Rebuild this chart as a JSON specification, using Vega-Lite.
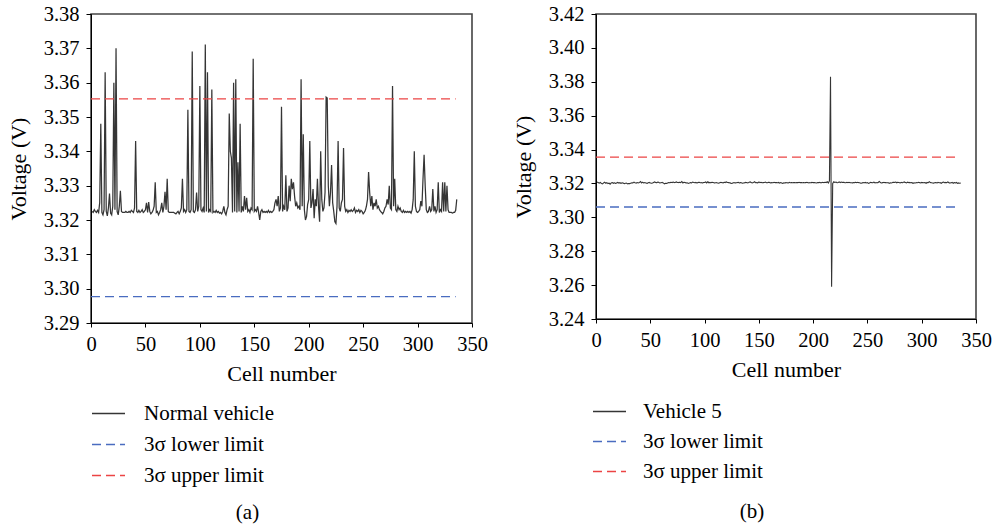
{
"$schema": "https://vega.github.io/schema/vega-lite/v6.json",
"background": "white",
"padding": {"left": 6, "top": 3, "right": 0, "bottom": 0},
"autosize": {"type": "pad"},
"config": {
  "view": {"stroke": "#444444", "strokeWidth": 1.6},
  "axis": {"grid": false, "labelFont": "Liberation Serif", "labelFontSize": 20.5, "labelColor": "black", "titleFont": "Liberation Serif", "titleFontSize": 22, "titleFontWeight": "normal", "titleColor": "black", "domainColor": "black", "tickColor": "black", "labelFlush": false, "labelOverlap": false, "labelSeparation": 0},
  "axisX": {"tickSize": 4, "labelPadding": 7, "titlePadding": 9},
  "axisY": {"tickSize": 5, "labelPadding": 7, "titlePadding": 13},
  "legend": {"labelFont": "Liberation Serif"},
  "title": {"font": "Liberation Serif", "fontSize": 21, "fontWeight": "normal", "color": "black"}
},
"datasets": {
"a": [
{"x":1,"v":3.3225},{"x":2,"v":3.3222},{"x":3,"v":3.3230},{"x":4,"v":3.3225},{"x":5,"v":3.3222},{"x":6,"v":3.3228},{"x":7,"v":3.3222},{"x":8,"v":3.3250},{"x":9,"v":3.3480},{"x":10,"v":3.3222},
{"x":11,"v":3.3215},{"x":12,"v":3.3230},{"x":13,"v":3.3630},{"x":14,"v":3.3225},{"x":15,"v":3.3212},{"x":16,"v":3.3235},{"x":17,"v":3.3277},{"x":18,"v":3.3220},{"x":19,"v":3.3215},{"x":20,"v":3.3240},
{"x":21,"v":3.3600},{"x":22,"v":3.3230},{"x":23,"v":3.3700},{"x":24,"v":3.3225},{"x":25,"v":3.3215},{"x":26,"v":3.3240},{"x":27,"v":3.3285},{"x":28,"v":3.3225},{"x":29,"v":3.3222},{"x":30,"v":3.3222},
{"x":31,"v":3.3222},{"x":32,"v":3.3225},{"x":33,"v":3.3222},{"x":34,"v":3.3222},{"x":35,"v":3.3225},{"x":36,"v":3.3222},{"x":37,"v":3.3228},{"x":38,"v":3.3225},{"x":39,"v":3.3222},{"x":40,"v":3.3235},
{"x":41,"v":3.3430},{"x":42,"v":3.3225},{"x":43,"v":3.3222},{"x":44,"v":3.3228},{"x":45,"v":3.3222},{"x":46,"v":3.3225},{"x":47,"v":3.3230},{"x":48,"v":3.3222},{"x":49,"v":3.3225},{"x":50,"v":3.3230},
{"x":51,"v":3.3250},{"x":52,"v":3.3222},{"x":53,"v":3.3252},{"x":54,"v":3.3225},{"x":55,"v":3.3218},{"x":56,"v":3.3222},{"x":57,"v":3.3228},{"x":58,"v":3.3240},{"x":59,"v":3.3310},{"x":60,"v":3.3222},
{"x":61,"v":3.3225},{"x":62,"v":3.3215},{"x":63,"v":3.3222},{"x":64,"v":3.3230},{"x":65,"v":3.3250},{"x":66,"v":3.3222},{"x":67,"v":3.3240},{"x":68,"v":3.3282},{"x":69,"v":3.3230},{"x":70,"v":3.3320},
{"x":71,"v":3.3225},{"x":72,"v":3.3222},{"x":73,"v":3.3222},{"x":74,"v":3.3222},{"x":75,"v":3.3222},{"x":76,"v":3.3222},{"x":77,"v":3.3220},{"x":78,"v":3.3218},{"x":79,"v":3.3222},{"x":80,"v":3.3225},
{"x":81,"v":3.3218},{"x":82,"v":3.3225},{"x":83,"v":3.3235},{"x":84,"v":3.3320},{"x":85,"v":3.3225},{"x":86,"v":3.3230},{"x":87,"v":3.3222},{"x":88,"v":3.3230},{"x":89,"v":3.3521},{"x":90,"v":3.3225},
{"x":91,"v":3.3222},{"x":92,"v":3.3230},{"x":93,"v":3.3691},{"x":94,"v":3.3225},{"x":95,"v":3.3222},{"x":96,"v":3.3230},{"x":97,"v":3.3280},{"x":98,"v":3.3225},{"x":99,"v":3.3240},{"x":100,"v":3.3590},
{"x":101,"v":3.3230},{"x":102,"v":3.3225},{"x":103,"v":3.3235},{"x":104,"v":3.3222},{"x":105,"v":3.3711},{"x":106,"v":3.3225},{"x":107,"v":3.3630},{"x":108,"v":3.3222},{"x":109,"v":3.3230},{"x":110,"v":3.3225},
{"x":111,"v":3.3580},{"x":112,"v":3.3222},{"x":113,"v":3.3225},{"x":114,"v":3.3222},{"x":115,"v":3.3228},{"x":116,"v":3.3222},{"x":117,"v":3.3225},{"x":118,"v":3.3220},{"x":119,"v":3.3222},{"x":120,"v":3.3218},
{"x":121,"v":3.3225},{"x":122,"v":3.3240},{"x":123,"v":3.3222},{"x":124,"v":3.3215},{"x":125,"v":3.3230},{"x":126,"v":3.3240},{"x":127,"v":3.3510},{"x":128,"v":3.3400},{"x":129,"v":3.3380},{"x":130,"v":3.3222},
{"x":131,"v":3.3600},{"x":132,"v":3.3225},{"x":133,"v":3.3610},{"x":134,"v":3.3222},{"x":135,"v":3.3368},{"x":136,"v":3.3225},{"x":137,"v":3.3480},{"x":138,"v":3.3222},{"x":139,"v":3.3240},{"x":140,"v":3.3225},
{"x":141,"v":3.3270},{"x":142,"v":3.3230},{"x":143,"v":3.3265},{"x":144,"v":3.3225},{"x":145,"v":3.3230},{"x":146,"v":3.3222},{"x":147,"v":3.3235},{"x":148,"v":3.3230},{"x":149,"v":3.3670},{"x":150,"v":3.3225},
{"x":151,"v":3.3230},{"x":152,"v":3.3225},{"x":153,"v":3.3240},{"x":154,"v":3.3222},{"x":155,"v":3.3200},{"x":156,"v":3.3225},{"x":157,"v":3.3230},{"x":158,"v":3.3222},{"x":159,"v":3.3225},{"x":160,"v":3.3222},
{"x":161,"v":3.3225},{"x":162,"v":3.3222},{"x":163,"v":3.3228},{"x":164,"v":3.3222},{"x":165,"v":3.3225},{"x":166,"v":3.3222},{"x":167,"v":3.3225},{"x":168,"v":3.3230},{"x":169,"v":3.3250},{"x":170,"v":3.3260},
{"x":171,"v":3.3240},{"x":172,"v":3.3270},{"x":173,"v":3.3225},{"x":174,"v":3.3235},{"x":175,"v":3.3530},{"x":176,"v":3.3225},{"x":177,"v":3.3240},{"x":178,"v":3.3230},{"x":179,"v":3.3330},{"x":180,"v":3.3225},
{"x":181,"v":3.3235},{"x":182,"v":3.3300},{"x":183,"v":3.3255},{"x":184,"v":3.3320},{"x":185,"v":3.3290},{"x":186,"v":3.3310},{"x":187,"v":3.3270},{"x":188,"v":3.3240},{"x":189,"v":3.3250},{"x":190,"v":3.3235},
{"x":191,"v":3.3240},{"x":192,"v":3.3230},{"x":193,"v":3.3610},{"x":194,"v":3.3240},{"x":195,"v":3.3450},{"x":196,"v":3.3230},{"x":197,"v":3.3200},{"x":198,"v":3.3210},{"x":199,"v":3.3245},{"x":200,"v":3.3260},
{"x":201,"v":3.3430},{"x":202,"v":3.3235},{"x":203,"v":3.3250},{"x":204,"v":3.3290},{"x":205,"v":3.3205},{"x":206,"v":3.3260},{"x":207,"v":3.3240},{"x":208,"v":3.3320},{"x":209,"v":3.3240},{"x":210,"v":3.3195},
{"x":211,"v":3.3400},{"x":212,"v":3.3260},{"x":213,"v":3.3225},{"x":214,"v":3.3235},{"x":215,"v":3.3280},{"x":216,"v":3.3558},{"x":217,"v":3.3555},{"x":218,"v":3.3300},{"x":219,"v":3.3240},{"x":220,"v":3.3280},
{"x":221,"v":3.3360},{"x":222,"v":3.3250},{"x":223,"v":3.3225},{"x":224,"v":3.3195},{"x":225,"v":3.3190},{"x":226,"v":3.3240},{"x":227,"v":3.3430},{"x":228,"v":3.3235},{"x":229,"v":3.3225},{"x":230,"v":3.3250},
{"x":231,"v":3.3260},{"x":232,"v":3.3410},{"x":233,"v":3.3240},{"x":234,"v":3.3225},{"x":235,"v":3.3230},{"x":236,"v":3.3222},{"x":237,"v":3.3228},{"x":238,"v":3.3225},{"x":239,"v":3.3230},{"x":240,"v":3.3225},
{"x":241,"v":3.3228},{"x":242,"v":3.3235},{"x":243,"v":3.3222},{"x":244,"v":3.3228},{"x":245,"v":3.3225},{"x":246,"v":3.3230},{"x":247,"v":3.3222},{"x":248,"v":3.3228},{"x":249,"v":3.3225},{"x":250,"v":3.3218},
{"x":251,"v":3.3222},{"x":252,"v":3.3228},{"x":253,"v":3.3240},{"x":254,"v":3.3260},{"x":255,"v":3.3340},{"x":256,"v":3.3280},{"x":257,"v":3.3240},{"x":258,"v":3.3270},{"x":259,"v":3.3230},{"x":260,"v":3.3250},
{"x":261,"v":3.3240},{"x":262,"v":3.3260},{"x":263,"v":3.3235},{"x":264,"v":3.3240},{"x":265,"v":3.3230},{"x":266,"v":3.3225},{"x":267,"v":3.3222},{"x":268,"v":3.3218},{"x":269,"v":3.3225},{"x":270,"v":3.3235},
{"x":271,"v":3.3240},{"x":272,"v":3.3260},{"x":273,"v":3.3245},{"x":274,"v":3.3300},{"x":275,"v":3.3235},{"x":276,"v":3.3230},{"x":277,"v":3.3590},{"x":278,"v":3.3240},{"x":279,"v":3.3320},{"x":280,"v":3.3230},
{"x":281,"v":3.3225},{"x":282,"v":3.3240},{"x":283,"v":3.3230},{"x":284,"v":3.3235},{"x":285,"v":3.3225},{"x":286,"v":3.3222},{"x":287,"v":3.3228},{"x":288,"v":3.3222},{"x":289,"v":3.3225},{"x":290,"v":3.3222},
{"x":291,"v":3.3225},{"x":292,"v":3.3222},{"x":293,"v":3.3225},{"x":294,"v":3.3220},{"x":295,"v":3.3230},{"x":296,"v":3.3260},{"x":297,"v":3.3400},{"x":298,"v":3.3240},{"x":299,"v":3.3225},{"x":300,"v":3.3222},
{"x":301,"v":3.3225},{"x":302,"v":3.3230},{"x":303,"v":3.3255},{"x":304,"v":3.3240},{"x":305,"v":3.3320},{"x":306,"v":3.3390},{"x":307,"v":3.3300},{"x":308,"v":3.3230},{"x":309,"v":3.3222},{"x":310,"v":3.3225},
{"x":311,"v":3.3240},{"x":312,"v":3.3225},{"x":313,"v":3.3230},{"x":314,"v":3.3290},{"x":315,"v":3.3225},{"x":316,"v":3.3240},{"x":317,"v":3.3222},{"x":318,"v":3.3230},{"x":319,"v":3.3310},{"x":320,"v":3.3222},
{"x":321,"v":3.3230},{"x":322,"v":3.3225},{"x":323,"v":3.3310},{"x":324,"v":3.3225},{"x":325,"v":3.3310},{"x":326,"v":3.3225},{"x":327,"v":3.3300},{"x":328,"v":3.3230},{"x":329,"v":3.3222},{"x":330,"v":3.3222},
{"x":331,"v":3.3222},{"x":332,"v":3.3220},{"x":333,"v":3.3222},{"x":334,"v":3.3222},{"x":335,"v":3.3228},{"x":336,"v":3.3260}
],
"b": [
{"x":1,"v":3.3208},{"x":2,"v":3.3205},{"x":3,"v":3.3202},{"x":4,"v":3.3206},{"x":5,"v":3.3200},{"x":6,"v":3.3198},{"x":7,"v":3.3203},{"x":8,"v":3.3207},{"x":9,"v":3.3201},{"x":10,"v":3.3205},
{"x":11,"v":3.3199},{"x":12,"v":3.3202},{"x":13,"v":3.3196},{"x":14,"v":3.3203},{"x":15,"v":3.3205},{"x":16,"v":3.3201},{"x":17,"v":3.3204},{"x":18,"v":3.3200},{"x":19,"v":3.3203},{"x":20,"v":3.3206},
{"x":21,"v":3.3202},{"x":22,"v":3.3205},{"x":23,"v":3.3200},{"x":24,"v":3.3204},{"x":25,"v":3.3203},{"x":26,"v":3.3199},{"x":27,"v":3.3201},{"x":28,"v":3.3202},{"x":29,"v":3.3198},{"x":30,"v":3.3200},
{"x":31,"v":3.3199},{"x":32,"v":3.3201},{"x":33,"v":3.3204},{"x":34,"v":3.3203},{"x":35,"v":3.3208},{"x":36,"v":3.3204},{"x":37,"v":3.3202},{"x":38,"v":3.3205},{"x":39,"v":3.3203},{"x":40,"v":3.3206},
{"x":41,"v":3.3211},{"x":42,"v":3.3203},{"x":43,"v":3.3207},{"x":44,"v":3.3203},{"x":45,"v":3.3205},{"x":46,"v":3.3203},{"x":47,"v":3.3200},{"x":48,"v":3.3204},{"x":49,"v":3.3206},{"x":50,"v":3.3203},
{"x":51,"v":3.3201},{"x":52,"v":3.3203},{"x":53,"v":3.3206},{"x":54,"v":3.3209},{"x":55,"v":3.3205},{"x":56,"v":3.3204},{"x":57,"v":3.3208},{"x":58,"v":3.3205},{"x":59,"v":3.3203},{"x":60,"v":3.3204},
{"x":61,"v":3.3206},{"x":62,"v":3.3203},{"x":63,"v":3.3198},{"x":64,"v":3.3201},{"x":65,"v":3.3200},{"x":66,"v":3.3203},{"x":67,"v":3.3205},{"x":68,"v":3.3204},{"x":69,"v":3.3207},{"x":70,"v":3.3205},
{"x":71,"v":3.3208},{"x":72,"v":3.3205},{"x":73,"v":3.3206},{"x":74,"v":3.3209},{"x":75,"v":3.3206},{"x":76,"v":3.3205},{"x":77,"v":3.3207},{"x":78,"v":3.3205},{"x":79,"v":3.3211},{"x":80,"v":3.3203},
{"x":81,"v":3.3207},{"x":82,"v":3.3205},{"x":83,"v":3.3203},{"x":84,"v":3.3204},{"x":85,"v":3.3200},{"x":86,"v":3.3202},{"x":87,"v":3.3205},{"x":88,"v":3.3203},{"x":89,"v":3.3208},{"x":90,"v":3.3206},
{"x":91,"v":3.3204},{"x":92,"v":3.3206},{"x":93,"v":3.3203},{"x":94,"v":3.3205},{"x":95,"v":3.3207},{"x":96,"v":3.3204},{"x":97,"v":3.3205},{"x":98,"v":3.3203},{"x":99,"v":3.3205},{"x":100,"v":3.3206},
{"x":101,"v":3.3209},{"x":102,"v":3.3203},{"x":103,"v":3.3210},{"x":104,"v":3.3204},{"x":105,"v":3.3206},{"x":106,"v":3.3204},{"x":107,"v":3.3207},{"x":108,"v":3.3205},{"x":109,"v":3.3203},{"x":110,"v":3.3204},
{"x":111,"v":3.3205},{"x":112,"v":3.3203},{"x":113,"v":3.3201},{"x":114,"v":3.3204},{"x":115,"v":3.3206},{"x":116,"v":3.3205},{"x":117,"v":3.3203},{"x":118,"v":3.3207},{"x":119,"v":3.3205},{"x":120,"v":3.3209},
{"x":121,"v":3.3206},{"x":122,"v":3.3205},{"x":123,"v":3.3204},{"x":124,"v":3.3202},{"x":125,"v":3.3200},{"x":126,"v":3.3203},{"x":127,"v":3.3205},{"x":128,"v":3.3203},{"x":129,"v":3.3204},{"x":130,"v":3.3205},
{"x":131,"v":3.3206},{"x":132,"v":3.3203},{"x":133,"v":3.3205},{"x":134,"v":3.3204},{"x":135,"v":3.3201},{"x":136,"v":3.3203},{"x":137,"v":3.3204},{"x":138,"v":3.3206},{"x":139,"v":3.3205},{"x":140,"v":3.3203},
{"x":141,"v":3.3207},{"x":142,"v":3.3209},{"x":143,"v":3.3205},{"x":144,"v":3.3203},{"x":145,"v":3.3206},{"x":146,"v":3.3210},{"x":147,"v":3.3204},{"x":148,"v":3.3205},{"x":149,"v":3.3203},{"x":150,"v":3.3208},
{"x":151,"v":3.3205},{"x":152,"v":3.3207},{"x":153,"v":3.3204},{"x":154,"v":3.3205},{"x":155,"v":3.3206},{"x":156,"v":3.3208},{"x":157,"v":3.3205},{"x":158,"v":3.3204},{"x":159,"v":3.3207},{"x":160,"v":3.3205},
{"x":161,"v":3.3203},{"x":162,"v":3.3205},{"x":163,"v":3.3204},{"x":164,"v":3.3206},{"x":165,"v":3.3205},{"x":166,"v":3.3205},{"x":167,"v":3.3204},{"x":168,"v":3.3206},{"x":169,"v":3.3202},{"x":170,"v":3.3205},
{"x":171,"v":3.3203},{"x":172,"v":3.3200},{"x":173,"v":3.3204},{"x":174,"v":3.3203},{"x":175,"v":3.3205},{"x":176,"v":3.3204},{"x":177,"v":3.3203},{"x":178,"v":3.3206},{"x":179,"v":3.3204},{"x":180,"v":3.3205},
{"x":181,"v":3.3204},{"x":182,"v":3.3205},{"x":183,"v":3.3205},{"x":184,"v":3.3204},{"x":185,"v":3.3205},{"x":186,"v":3.3205},{"x":187,"v":3.3206},{"x":188,"v":3.3205},{"x":189,"v":3.3205},{"x":190,"v":3.3204},
{"x":191,"v":3.3205},{"x":192,"v":3.3204},{"x":193,"v":3.3205},{"x":194,"v":3.3206},{"x":195,"v":3.3205},{"x":196,"v":3.3203},{"x":197,"v":3.3205},{"x":198,"v":3.3204},{"x":199,"v":3.3206},{"x":200,"v":3.3205},
{"x":201,"v":3.3205},{"x":202,"v":3.3204},{"x":203,"v":3.3203},{"x":204,"v":3.3205},{"x":205,"v":3.3205},{"x":206,"v":3.3206},{"x":207,"v":3.3204},{"x":208,"v":3.3205},{"x":209,"v":3.3206},{"x":210,"v":3.3205},
{"x":211,"v":3.3207},{"x":212,"v":3.3205},{"x":213,"v":3.3210},{"x":214,"v":3.3203},{"x":215,"v":3.3215},{"x":216,"v":3.3830},{"x":217,"v":3.2590},{"x":218,"v":3.3200},{"x":219,"v":3.3210},{"x":220,"v":3.3206},
{"x":221,"v":3.3208},{"x":222,"v":3.3204},{"x":223,"v":3.3206},{"x":224,"v":3.3209},{"x":225,"v":3.3205},{"x":226,"v":3.3208},{"x":227,"v":3.3206},{"x":228,"v":3.3207},{"x":229,"v":3.3205},{"x":230,"v":3.3204},
{"x":231,"v":3.3206},{"x":232,"v":3.3205},{"x":233,"v":3.3206},{"x":234,"v":3.3205},{"x":235,"v":3.3204},{"x":236,"v":3.3203},{"x":237,"v":3.3205},{"x":238,"v":3.3204},{"x":239,"v":3.3207},{"x":240,"v":3.3205},
{"x":241,"v":3.3206},{"x":242,"v":3.3205},{"x":243,"v":3.3204},{"x":244,"v":3.3201},{"x":245,"v":3.3203},{"x":246,"v":3.3205},{"x":247,"v":3.3204},{"x":248,"v":3.3206},{"x":249,"v":3.3203},{"x":250,"v":3.3205},
{"x":251,"v":3.3200},{"x":252,"v":3.3203},{"x":253,"v":3.3206},{"x":254,"v":3.3205},{"x":255,"v":3.3204},{"x":256,"v":3.3208},{"x":257,"v":3.3203},{"x":258,"v":3.3205},{"x":259,"v":3.3204},{"x":260,"v":3.3206},
{"x":261,"v":3.3212},{"x":262,"v":3.3205},{"x":263,"v":3.3203},{"x":264,"v":3.3205},{"x":265,"v":3.3206},{"x":266,"v":3.3205},{"x":267,"v":3.3205},{"x":268,"v":3.3204},{"x":269,"v":3.3205},{"x":270,"v":3.3201},
{"x":271,"v":3.3204},{"x":272,"v":3.3203},{"x":273,"v":3.3205},{"x":274,"v":3.3207},{"x":275,"v":3.3206},{"x":276,"v":3.3208},{"x":277,"v":3.3204},{"x":278,"v":3.3207},{"x":279,"v":3.3205},{"x":280,"v":3.3203},
{"x":281,"v":3.3206},{"x":282,"v":3.3204},{"x":283,"v":3.3207},{"x":284,"v":3.3209},{"x":285,"v":3.3205},{"x":286,"v":3.3203},{"x":287,"v":3.3208},{"x":288,"v":3.3205},{"x":289,"v":3.3206},{"x":290,"v":3.3204},
{"x":291,"v":3.3205},{"x":292,"v":3.3200},{"x":293,"v":3.3204},{"x":294,"v":3.3203},{"x":295,"v":3.3205},{"x":296,"v":3.3204},{"x":297,"v":3.3206},{"x":298,"v":3.3205},{"x":299,"v":3.3203},{"x":300,"v":3.3206},
{"x":301,"v":3.3205},{"x":302,"v":3.3204},{"x":303,"v":3.3205},{"x":304,"v":3.3201},{"x":305,"v":3.3206},{"x":306,"v":3.3205},{"x":307,"v":3.3210},{"x":308,"v":3.3205},{"x":309,"v":3.3204},{"x":310,"v":3.3203},
{"x":311,"v":3.3202},{"x":312,"v":3.3204},{"x":313,"v":3.3205},{"x":314,"v":3.3203},{"x":315,"v":3.3206},{"x":316,"v":3.3204},{"x":317,"v":3.3205},{"x":318,"v":3.3201},{"x":319,"v":3.3205},{"x":320,"v":3.3208},
{"x":321,"v":3.3204},{"x":322,"v":3.3206},{"x":323,"v":3.3205},{"x":324,"v":3.3209},{"x":325,"v":3.3204},{"x":326,"v":3.3202},{"x":327,"v":3.3204},{"x":328,"v":3.3206},{"x":329,"v":3.3201},{"x":330,"v":3.3205},
{"x":331,"v":3.3203},{"x":332,"v":3.3206},{"x":333,"v":3.3200},{"x":334,"v":3.3203},{"x":335,"v":3.3201},{"x":336,"v":3.3203}
],
"al": [
{"s":"3σ lower limit","x":0,"v":3.2977},{"s":"3σ lower limit","x":335,"v":3.2977},
{"s":"3σ upper limit","x":0,"v":3.3553},{"s":"3σ upper limit","x":335,"v":3.3553}
],
"bl": [
{"s":"3σ lower limit","x":0,"v":3.3061},{"s":"3σ lower limit","x":335,"v":3.3061},
{"s":"3σ upper limit","x":0,"v":3.3355},{"s":"3σ upper limit","x":335,"v":3.3355}
]
},
"hconcat": [
{
  "width": 381, "height": 309,
  "title": {"text": "(a)", "orient": "bottom", "anchor": "middle", "dx": -34, "offset": 16},
  "layer": [
    {
      "data": {"name": "a"},
      "mark": {"type": "line", "strokeWidth": 1.25, "interpolate": "linear"},
      "encoding": {
        "x": {"field": "x", "type": "quantitative", "scale": {"domain": [0, 350], "nice": false}, "axis": {"title": "Cell number", "tickCount": 7, "format": "d", "labelOverlap": false}},
        "y": {"field": "v", "type": "quantitative", "scale": {"domain": [3.29, 3.38], "nice": false, "zero": false}, "axis": {"title": "Voltage (V)", "tickCount": 9, "format": ".2f", "labelOverlap": false, "labelSeparation": 0}},
        "color": {"datum": "Normal vehicle", "type": "nominal", "title": null, "scale": {"domain": ["Normal vehicle", "3σ lower limit", "3σ upper limit"], "range": ["#353535", "#4a6cc0", "#ec4444"]},
          "legend": {"orient": "none", "legendX": 0, "legendY": 382, "title": null, "symbolType": "stroke", "symbolSize": 1089, "symbolStrokeWidth": 1.3, "labelFont": "Liberation Serif", "labelFontSize": 21, "labelColor": "black", "labelOffset": 18, "rowPadding": 3, "padding": 0, "direction": "vertical", "labelLimit": 300}},
        "strokeDash": {"datum": "Normal vehicle", "type": "nominal", "title": null, "scale": {"domain": ["Normal vehicle", "3σ lower limit", "3σ upper limit"], "range": [[1, 0], [9, 5], [9, 5]]},
          "legend": {"orient": "none", "legendX": 0, "legendY": 382, "title": null, "symbolType": "stroke", "symbolSize": 1089, "symbolStrokeWidth": 1.3, "labelFont": "Liberation Serif", "labelFontSize": 21, "labelColor": "black", "labelOffset": 18, "rowPadding": 3, "padding": 0, "direction": "vertical", "labelLimit": 300}}
      }
    },
    {
      "data": {"name": "al"},
      "mark": {"type": "line", "strokeWidth": 1.3},
      "encoding": {
        "x": {"field": "x", "type": "quantitative"},
        "y": {"field": "v", "type": "quantitative"},
        "color": {"field": "s", "type": "nominal", "title": null},
        "strokeDash": {"field": "s", "type": "nominal", "title": null},
        "detail": {"field": "s"}
      }
    }
  ]
},
{
  "width": 380, "height": 305,
  "title": {"text": "(b)", "orient": "bottom", "anchor": "middle", "dx": -34, "offset": 19},
  "layer": [
    {
      "data": {"name": "b"},
      "mark": {"type": "line", "strokeWidth": 1.1, "interpolate": "linear"},
      "encoding": {
        "x": {"field": "x", "type": "quantitative", "scale": {"domain": [0, 350], "nice": false}, "axis": {"title": "Cell number", "tickCount": 7, "format": "d", "labelOverlap": false}},
        "y": {"field": "v", "type": "quantitative", "scale": {"domain": [3.24, 3.42], "nice": false, "zero": false}, "axis": {"title": "Voltage (V)", "tickCount": 9, "format": ".2f", "labelOverlap": false, "labelSeparation": 0}},
        "color": {"datum": "Vehicle 5", "type": "nominal", "title": null, "scale": {"domain": ["Vehicle 5", "3σ lower limit", "3σ upper limit"], "range": ["#353535", "#4a6cc0", "#ec4444"]},
          "legend": {"orient": "none", "legendX": -4, "legendY": 380, "title": null, "symbolType": "stroke", "symbolSize": 1089, "symbolStrokeWidth": 1.3, "labelFont": "Liberation Serif", "labelFontSize": 21, "labelColor": "black", "labelOffset": 16, "rowPadding": 2, "padding": 0, "direction": "vertical", "labelLimit": 300}},
        "strokeDash": {"datum": "Vehicle 5", "type": "nominal", "title": null, "scale": {"domain": ["Vehicle 5", "3σ lower limit", "3σ upper limit"], "range": [[1, 0], [9, 5], [9, 5]]},
          "legend": {"orient": "none", "legendX": -4, "legendY": 380, "title": null, "symbolType": "stroke", "symbolSize": 1089, "symbolStrokeWidth": 1.3, "labelFont": "Liberation Serif", "labelFontSize": 21, "labelColor": "black", "labelOffset": 16, "rowPadding": 2, "padding": 0, "direction": "vertical", "labelLimit": 300}}
      }
    },
    {
      "data": {"name": "bl"},
      "mark": {"type": "line", "strokeWidth": 1.3},
      "encoding": {
        "x": {"field": "x", "type": "quantitative"},
        "y": {"field": "v", "type": "quantitative"},
        "color": {"field": "s", "type": "nominal", "title": null},
        "strokeDash": {"field": "s", "type": "nominal", "title": null},
        "detail": {"field": "s"}
      }
    }
  ]
}
],
"spacing": 22,
"resolve": {"scale": {"color": "independent", "strokeDash": "independent"}}
}
